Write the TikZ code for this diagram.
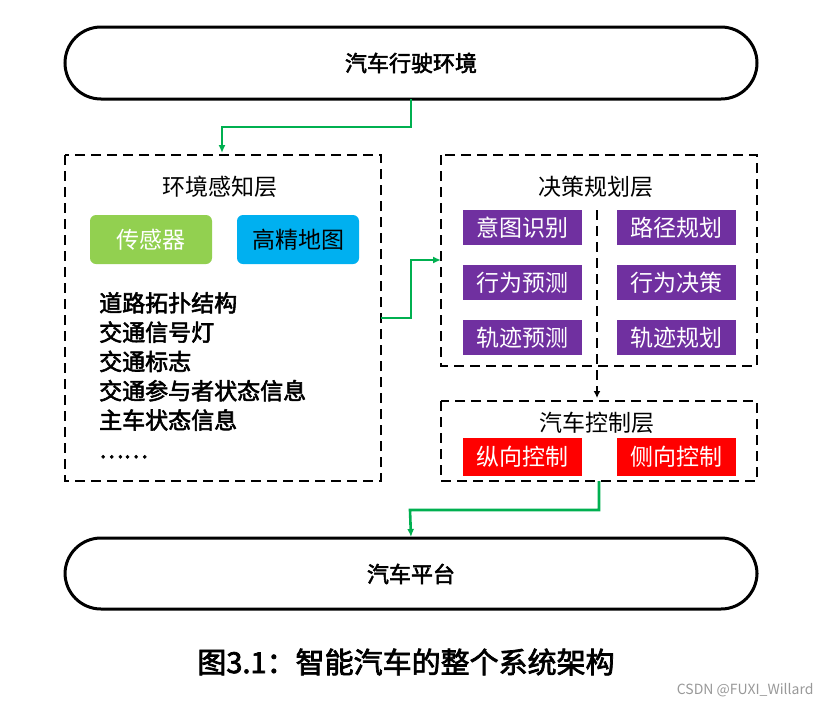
\documentclass[tikz,border=0pt]{standalone}
\usepackage{fontspec}
\newfontfamily\cjk{Noto Sans CJK SC}
\newfontfamily\cjkb[FakeBold=2.5]{Noto Sans CJK SC}
\usetikzlibrary{arrows.meta}
\definecolor{gr}{HTML}{00B050}
\definecolor{lgr}{HTML}{92D050}
\definecolor{bl}{HTML}{00B0F0}
\definecolor{pu}{HTML}{7030A0}
\definecolor{rd}{HTML}{FF0000}
\begin{document}
\begin{tikzpicture}[x=1pt,y=-1pt,
  round/.style={draw,line width=3pt,rounded corners=36pt},
  dbox/.style={draw,line width=2.6pt,dash pattern=on 10pt off 6pt},
  flow/.style={draw=gr,line width=2.6pt,-{Latex[length=8pt,width=7pt]}},
  lbl/.style={font=\cjk\fontsize{23}{27}\selectfont},
  fill box/.style={lbl,text=white,minimum width=119pt,minimum height=35pt,inner sep=0pt},
  big/.style={font=\cjkb\fontsize{22}{26}\selectfont}]
\useasboundingbox (0,0) rectangle (831,707);
\fill[white] (0,0) rectangle (831,707);
\draw[round] (65,27) rectangle (757,99);
\node[big] (env) at (411,63) {汽车行驶环境};
\draw[round] (65,538) rectangle (757,609);
\node[big] (plat) at (411,574) {汽车平台};
\coordinate (envb) at (411,99);
\coordinate (platt) at (411,537);
% left box
\draw[dbox] (65,155) rectangle (381,481);
\coordinate (lt) at (222,153);
\coordinate (lr) at (381,318);
\node[lbl] (ptitle) at (220,187) {环境感知层};
\node[fill box,fill=lgr,minimum width=122pt,minimum height=49pt,rounded corners=6pt] (sens) at (151,239.5) {传感器};
\node[fill box,fill=bl,text=black,minimum width=122pt,minimum height=49pt,rounded corners=6pt] (map) at (298,239.5) {高精地图};
\node[big,anchor=north west,align=left,font=\cjkb\fontsize{23}{29.3}\selectfont,inner sep=0pt] (list) at (99,292)
 {道路拓扑结构\\交通信号灯\\交通标志\\交通参与者状态信息\\主车状态信息\\……};
% right box
\draw[dbox] (441,155) rectangle (757,366);
\coordinate (rl) at (441,260);
\node[lbl] (dtitle) at (596,187) {决策规划层};
\node[fill box,fill=pu] (a1) at (522.5,227.5) {意图识别};
\node[fill box,fill=pu] (a2) at (522.5,282.5) {行为预测};
\node[fill box,fill=pu] (a3) at (522.5,337.5) {轨迹预测};
\node[fill box,fill=pu] (b1) at (676.5,227.5) {路径规划};
\node[fill box,fill=pu] (b2) at (676.5,282.5) {行为决策};
\node[fill box,fill=pu] (b3) at (676.5,337.5) {轨迹规划};
\coordinate (vtop) at (597,210);
\coordinate (vbot) at (597,398);
\draw[line width=2.6pt,dash pattern=on 10pt off 6pt,-{Latex[length=7pt,width=7pt]}] (vtop) -- (vbot);
% control
\draw[dbox] (441,401) rectangle (757,481);
\node[lbl] (ctitle) at (597,423) {汽车控制层};
\node[fill box,fill=rd,minimum height=38pt] (c1) at (522.5,457) {纵向控制};
\node[fill box,fill=rd,minimum height=38pt] (c2) at (676.5,457) {侧向控制};
\coordinate (cb) at (599,481);
% arrows
\draw[flow] (envb) -- (411,127) -- (222,127) -- (lt);
\draw[flow] (lr) -- (411,318) -- (411,260) -- (rl);
\draw[flow] (cb) -- (599,510) -- (410,510) -- (platt);
\node[font=\cjkb\fontsize{29}{34}\selectfont] (cap) at (406,662) {图3.1：智能汽车的整个系统架构};
\node[font=\cjk\fontsize{14}{16}\selectfont,text=gray!80,anchor=east] (wm) at (817,690) {CSDN @FUXI\_Willard};
\end{tikzpicture}
\end{document}
